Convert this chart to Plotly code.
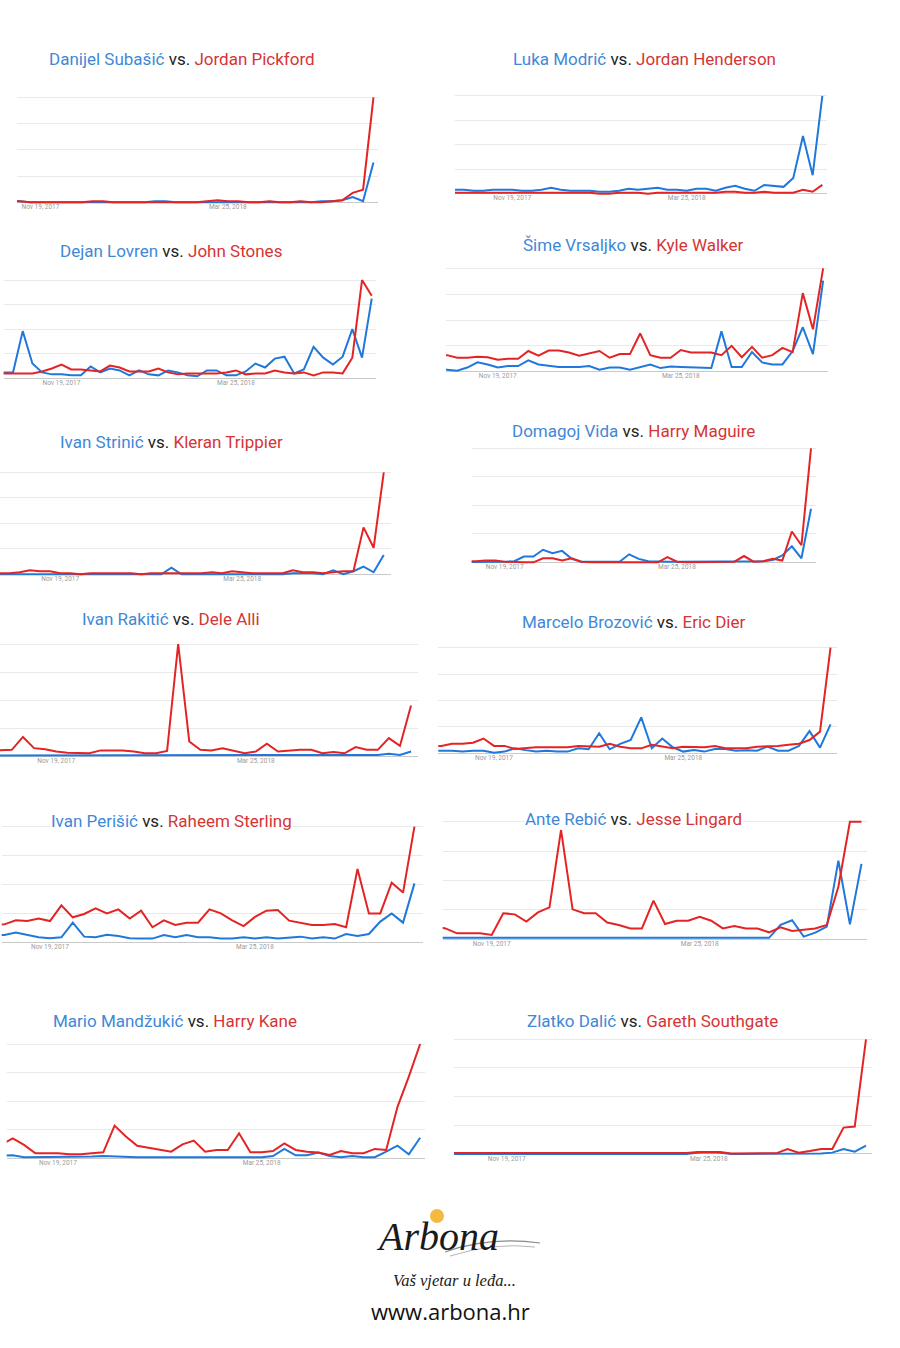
import pandas as pd
import plotly.graph_objects as go

# ---------------- data ----------------
weeks = pd.date_range("2017-10-08", periods=39, freq="7D")
tick_dates = ["2017-11-19", "2018-03-25"]
tick_labels = ["Nov 19, 2017", "Mar 25, 2018"]

blue_names = ["Danijel Subašić", "Luka Modrić", "Dejan Lovren", "Šime Vrsaljko",
              "Ivan Strinić", "Domagoj Vida", "Ivan Rakitić", "Marcelo Brozović",
              "Ivan Perišić", "Ante Rebić", "Mario Mandžukić", "Zlatko Dalić"]
red_names = ["Jordan Pickford", "Jordan Henderson", "John Stones", "Kyle Walker",
             "Kleran Trippier", "Harry Maguire", "Dele Alli", "Eric Dier",
             "Raheem Sterling", "Jesse Lingard", "Harry Kane", "Gareth Southgate"]

blue_1 = [1,1,1,1,1,0,0,0,0,0, 0,0,0,0,0,0,0,1,1,0, 0,0,0,0,0,0,0,0,0,0, 0,0,0,1,1,2,5,1,38]
red_1 = [2,2,2,2,1,0,0,0,0,0, 0,1,1,0,0,0,0,0,0,0, 0,0,1,2,1,1,0,0,1,0, 0,1,0,0,1,2,9,12,100]

blue_2 = [4,4,3,3,4,4,4,3,3,4, 6,4,3,3,3,2,2,3,5,4, 5,6,4,4,3,5,5,3,6,8, 5,3,9,8,7,16,59,19,100]
red_2 = [1,1,1,1,1,1,1,1,1,1, 1,1,1,1,1,0,0,1,1,1, 0,1,1,1,1,1,1,1,2,2, 1,1,2,1,1,1,4,2,9]

blue_3 = [6,6,48,15,6,4,4,3,3,12, 6,10,8,3,8,4,3,8,6,3, 2,8,8,3,3,7,15,11,20,22, 5,9,32,21,14,22,50,21,81]
red_3 = [5,5,5,5,7,10,14,9,9,8, 7,13,11,7,7,7,10,6,4,5, 5,5,5,6,8,4,5,5,8,6, 5,6,3,6,6,5,21,100,84]

blue_4 = [2,2,1,4,9,7,4,5.5,5.5,11, 7,5.5,4.5,4.5,4.5,5.5,2,4,4,2, 4.5,7,3.5,5,4.5,4,3.5,3.5,39,4.5, 4.5,19,9,7,7,20,43,17,88]
red_4 = [16,16,13.5,13.5,14.5,14,11.5,12.5,12.5,20, 15.5,20.5,20.5,18.5,15.5,17.5,20,13.5,17,17, 37,16,13.5,13.5,21,18.5,18.5,18.5,16,25, 14,24,13.5,16,23,19,76,41,100]

blue_5 = [0,0,0,0,0,0,0,0,0,0, 0,0,0,0,0,0,0,6.5,0,0, 0,0,0,0,0,0,0,0,0,1, 1,1,0,4,0,3,7.5,2,19]
red_5 = [1,1,2,4,3,3,1,1,0,1, 1,1,1,1,0,1,1,1,1,1, 1,2,1,3,2,1,1,1,1,4, 2,2,1,2,3,3,46,26,100]

blue_6 = [0,0,0,0.5,0.5,0.5,0.5,1,5,5, 11,8,10,3,0.5,0.5,0.5,0.5,0.5,7, 3,1,0.5,0.5,0.5,0.5,0.5,0.5,0.5,0.5, 0.5,0.5,0.5,1,2,6,14,3.5,47]
red_6 = [0.5,0.5,0.5,1,1.5,1.5,0.5,0,0,0, 3.5,3.5,1.5,3.5,0.5,0,0,0,0,0, 0,0,0,4.5,0.5,0,0,0,0,0, 0.5,5.5,0.5,1,3,1.5,27,15,100]

blue_7 = [0.5,0.5,0.5,0.5,0.5,0.5,0.5,0.5,0.5,0.5, 0.5,0.5,0.5,0.5,0.5,0.5,0.5,0.5,0.5,0.5, 0.5,0.5,0.5,0.5,0.5,0.5,0.5,0.5,0.5,0.5, 0.5,0.5,0.5,0.5,0.5,1,2,1,4]
red_7 = [5,5.5,5.5,17,7,6,4,3,2.4,2.4, 5,5,5,4,2.4,2.4,4.5,100,13,5.5, 5,7,5,2.4,4,11,4,5,5.5,5.5, 2.4,3.5,2.4,8,5.5,5.5,16,9,45]

blue_8 = [2.5,2.5,2.5,1.6,2.5,2.5,0.6,1.6,4.7,3, 1.6,2.5,1.6,1.6,4.7,3.8,19,3.8,9,12.6, 34,4.7,14,5.7,1.6,3,1.6,4,4,2.5, 3,2.5,6.3,2.5,2.5,7,21,5.4,27.4]
red_8 = [7,7,9,9,10,14,7,7,4,5, 5.7,5.7,5.7,5.7,7,6.3,6.3,9,6.3,4.7, 4.7,8,6.3,4.7,6.3,6.3,5.7,7,4.7,4.7, 4.7,6.3,6.3,7,8,9,12.6,20.5,100]

blue_9 = [6.3,6.3,6.3,8.4,6.3,4.3,3.5,4.3,17,4.9, 4.3,6.6,5.5,3.5,3.2,3.2,6.3,4.3,6.3,4.3, 4.3,3.2,3.2,4.3,3.2,4.3,3.2,4.3,4.9,3.2, 4.3,3.2,7.2,5.5,7.2,17.9,25,17,51]
red_9 = [15,15,15.5,19,18.4,20.5,18.4,32,21.6,24.5, 29.4,25,28.5,20.5,27.4,13,19,15,17,17, 28.5,25,19,14,22,27.4,28,18.7,17,15, 15,15.9,13,63.4,25,25,51.6,43,100]

blue_10 = [1,1,1,1,1,1,1,1,1,1, 1,1,1,1,1,1,1,1,1,1, 1,1,1,1,1,1,1,1,1,1, 1,12,16,2,5.4,10.5,66.8,12.5,64]
red_10 = [10,11,9,4.8,4.8,4.8,3.4,22,21,14.8, 22.7,27,93,25.3,21.9,21.9,14,12,9,9, 32.7,12.8,15.6,15.6,19,15.6,9,11,9,9, 5.7,10,6.8,8.2,9,12,44.6,100,100]

blue_11 = [2,2,2.6,0.9,0.9,0.9,0.9,0.9,0.9,1.5, 2,1.5,0.9,0.9,0.9,0.9,0.9,0.9,0.9,0.9, 0.9,0.9,0.9,0.9,0.9,2,8.2,2.6,2.6,5, 2,1,2,1,1,5.8,11,3.5,18]
red_11 = [10,12,17.5,11.7,4.4,4.4,4.4,3.5,3.5,4.4, 5.2,28.6,19,11,9.3,7.9,5.8,12.2,15.5,5.8, 7.3,7.3,21.9,5.2,5.2,6.4,13,7.3,5.8,5, 2.9,6.4,4.4,4.4,8.2,7.3,45,71.4,100]

blue_12 = [0,0,0,0,0,0,0,0,0,0, 0,0,0,0,0,0,0,0,0,0, 0,0,0,1,1.5,1,0,0,0,0, 0.3,0.5,0.5,0.5,0.5,1.2,4.4,2,7.3]
red_12 = [0.8,0.8,0.8,1,1.2,1,0.8,1.2,1.2,0.6, 0.8,1,0.6,1.2,0.6,0.6,0.6,0.6,1,0.6, 0.8,1,0.8,1.8,2,1.8,0.5,0.5,0.6,0.8, 0.6,4.4,1.2,2.6,4.4,4.4,23,24,100]

blue_series = [blue_1, blue_2, blue_3, blue_4, blue_5, blue_6,
               blue_7, blue_8, blue_9, blue_10, blue_11, blue_12]
red_series = [red_1, red_2, red_3, red_4, red_5, red_6,
              red_7, red_8, red_9, red_10, red_11, red_12]

# ---------------- layout (pixel geometry of each panel) ----------------
W, H = 900, 1348
# left, right, y of 100, y of 0, x of Nov 19 label, x of Mar 25 label, title cx, title cy
panels = [
    (17, 378, 97.3, 202.3, 40.5, 227.8, 181.5, 59),
    (455, 826.7, 96, 193.7, 512.3, 686.7, 644.5, 59),
    (3.5, 376, 280, 378.3, 61.5, 236, 171.3, 250.7),
    (446, 828, 268.3, 371.7, 497.8, 680.8, 633.8, 245),
    (0, 391, 472.3, 574.3, 60.2, 242.2, 171.7, 441.7),
    (471.7, 816, 448.3, 562.3, 504.7, 677, 633.3, 430.7),
    (0, 418, 644, 756, 56.2, 255.8, 171.3, 619),
    (438.3, 836.7, 647.7, 753.3, 494, 683.3, 633.8, 621.7),
    (1.7, 423.3, 826.7, 942.3, 50, 255, 171.3, 820.7),
    (442.7, 866.7, 821.7, 939, 491.7, 699.7, 633.7, 819),
    (6.7, 425, 1044, 1158.3, 58, 261.7, 175, 1020.7),
    (454, 871.7, 1039.3, 1154, 506.7, 708.8, 652.8, 1020.7),
]

BLUE_LINE = "#1f78dc"
RED_LINE = "#e42424"
BLUE_TXT = "#3f88d8"
RED_TXT = "#d53535"

fig = go.Figure()
layout = dict(
    width=W, height=H, margin=dict(l=0, r=0, t=0, b=0),
    paper_bgcolor="white", plot_bgcolor="white", showlegend=False,
    font=dict(family="Roboto, Arial, sans-serif"),
)
annotations = []
nov = pd.Timestamp(tick_dates[0])
pad = 2.0
for k, (L, R, top, base, xn, xm, tcx, tcy) in enumerate(panels):
    idx = "" if k == 0 else str(k + 1)
    ppw = (xm - xn) / 18.0
    x0 = nov + pd.Timedelta(days=7 * (L - xn) / ppw)
    x1 = nov + pd.Timedelta(days=7 * (R - xn) / ppw)
    scale = (base - top) / 100.0
    dom_top = top - pad * scale
    dom_bot = base + pad * scale
    fig.add_trace(go.Scatter(x=weeks, y=blue_series[k], mode="lines",
                             line=dict(color=BLUE_LINE, width=2),
                             xaxis="x" + idx, yaxis="y" + idx, hoverinfo="skip"))
    fig.add_trace(go.Scatter(x=weeks, y=red_series[k], mode="lines",
                             line=dict(color=RED_LINE, width=2),
                             xaxis="x" + idx, yaxis="y" + idx, hoverinfo="skip"))
    layout["xaxis" + idx] = dict(
        domain=[L / W, R / W], anchor="y" + idx, type="date",
        range=[x0.strftime("%Y-%m-%d %H:%M:%S"), x1.strftime("%Y-%m-%d %H:%M:%S")],
        tickvals=tick_dates, ticktext=tick_labels, showgrid=False, showline=False,
        zeroline=False, ticks="", tickfont=dict(size=6.5, color="#9a9a9a"),
        ticklabelstandoff=-3, fixedrange=True,
    )
    layout["yaxis" + idx] = dict(
        domain=[1 - dom_bot / H, 1 - dom_top / H], anchor="x" + idx,
        range=[-pad, 100 + pad], tickvals=[0, 25, 50, 75, 100],
        showticklabels=False, showgrid=True, gridcolor="#e9e9e9", gridwidth=1,
        zeroline=True, zerolinecolor="#c9c9c9", zerolinewidth=1,
        showline=False, ticks="", fixedrange=True,
    )
    title = (f'<span style="color:{BLUE_TXT}">{blue_names[k]}</span>'
             f'<span style="color:#222222"> vs. </span>'
             f'<span style="color:{RED_TXT}">{red_names[k]}</span>')
    annotations.append(dict(
        text=title, xref="paper", yref="paper", x=tcx / W, y=1 - tcy / H,
        xanchor="center", yanchor="middle", showarrow=False,
        font=dict(family="Roboto", size=17, color="#222222"),
        bgcolor="white" if k in (8, 9) else "rgba(0,0,0,0)", borderpad=0,
    ))

# ---------------- logo / footer ----------------
annotations.append(dict(
    text="Arbona", xref="paper", yref="paper", x=437 / W, y=1 - 1236 / H,
    xanchor="center", yanchor="middle", showarrow=False,
    font=dict(family="Liberation Serif", size=40, color="#1a1a1a", style="italic"),
))
annotations.append(dict(
    text="Vaš vjetar u leđa...", xref="paper", yref="paper", x=454 / W, y=1 - 1280 / H,
    xanchor="center", yanchor="middle", showarrow=False,
    font=dict(family="Liberation Serif", size=16.5, color="#1a1a1a", style="italic"),
))
annotations.append(dict(
    text="www.arbona.hr", xref="paper", yref="paper", x=450 / W, y=1 - 1311 / H,
    xanchor="center", yanchor="middle", showarrow=False,
    font=dict(family="Open Sans", size=22, color="#111111"),
))
layout["annotations"] = annotations
layout["shapes"] = [
    dict(type="circle", xref="paper", yref="paper",
         x0=430 / W, x1=444 / W, y0=1 - 1223 / H, y1=1 - 1209 / H,
         fillcolor="#f5b940", line=dict(width=0)),
    dict(type="path", xref="paper", yref="paper",
         path=(f"M {445/W},{1-1252/H} Q {490/W},{1-1236/H} {540/W},{1-1243/H}"),
         line=dict(color="#8a8a8a", width=1.2)),
    dict(type="path", xref="paper", yref="paper",
         path=(f"M {450/W},{1-1256/H} Q {495/W},{1-1242/H} {535/W},{1-1247/H}"),
         line=dict(color="#b5b5b5", width=1)),
]
fig.update_layout(**layout)
fig.write_html("out.html", config={"displayModeBar": False},
               post_script="document.body.style.margin='0';")
